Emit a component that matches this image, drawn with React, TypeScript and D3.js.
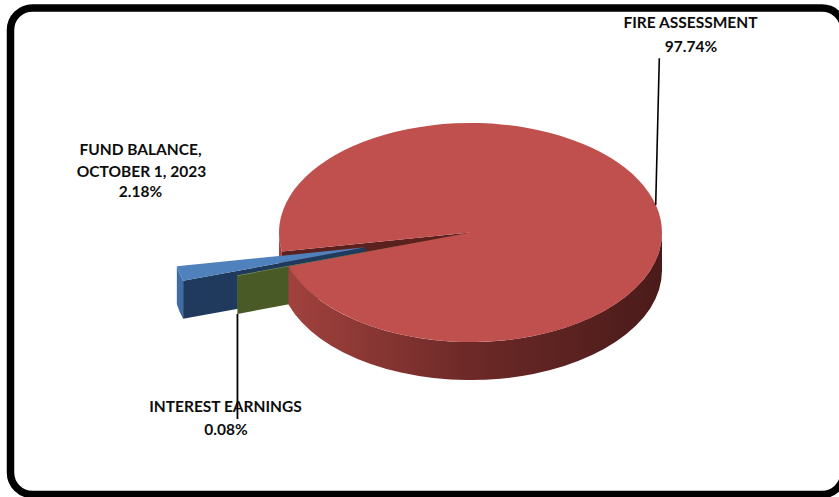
import React from "react";
import * as d3 from "d3";

// Revenue shares, in plotting order (clockwise)
const categories = ["FUND BALANCE, OCTOBER 1, 2023", "FIRE ASSESSMENT", "INTEREST EARNINGS"];
const labelLines = [["FUND BALANCE,", "OCTOBER 1, 2023"], ["FIRE ASSESSMENT"], ["INTEREST EARNINGS"]];
const shares = [2.18, 97.74, 0.08];
const explodeFrac = [0.565, 0, 0.28];

const W = 839;
const H = 497;

// 3-D pie geometry
const CX = 470.5;
const CY = 232.5;
const RX = 191.5;
const RY = 109.5;
const DEPTH = 38;
const START_DEG = 252.2; // d3 angle (0 = 12 o'clock) of the first slice

const topColors = ["#4F81BD", "#C0504D", "#9BBB59"];
const radialColors = ["#1F3A5C", "#5C201F", "#4A5A26"];
const wallColors = ["#3E6CA6", "url(#redWall)", "#6F8A3A"];

const fmtPct = (v: number) => `${v.toFixed(2)}%`;

type Off = { x: number; y: number };

function pt(theta: number, off: Off, z = 0): [number, number] {
  return [CX + off.x + RX * Math.cos(theta), CY + off.y + RY * Math.sin(theta) + z];
}

function topPath(t0: number, t1: number, off: Off) {
  const [x0, y0] = pt(t0, off);
  const [x1, y1] = pt(t1, off);
  const large = t1 - t0 > Math.PI ? 1 : 0;
  return `M${CX + off.x},${CY + off.y}L${x0},${y0}A${RX},${RY} 0 ${large} 1 ${x1},${y1}Z`;
}

function radialPath(t: number, off: Off) {
  const [x, y] = pt(t, off);
  const c = [CX + off.x, CY + off.y];
  return `M${c[0]},${c[1]}L${x},${y}L${x},${y + DEPTH}L${c[0]},${c[1] + DEPTH}Z`;
}

// Outer wall pieces that face the viewer (screen angles 0..PI); flags the piece touching the slice start
function wallPieces(t0: number, t1: number, off: Off): { d: string; atStart: boolean }[] {
  const out: { d: string; atStart: boolean }[] = [];
  for (let k = -2; k <= 2; k++) {
    const a = Math.max(t0, k * 2 * Math.PI);
    const b = Math.min(t1, k * 2 * Math.PI + Math.PI);
    if (b > a) {
      const [xa, ya] = pt(a, off);
      const [xb, yb] = pt(b, off);
      out.push({
        d: `M${xa},${ya}A${RX},${RY} 0 0 1 ${xb},${yb}L${xb},${yb + DEPTH}A${RX},${RY} 0 0 0 ${xa},${ya + DEPTH}Z`,
        atStart: a === t0,
      });
    }
  }
  return out;
}

export default function App() {
  const pie = d3
    .pie<number>()
    .sort(null)
    .value((d) => d)
    .startAngle((START_DEG * Math.PI) / 180)
    .endAngle((START_DEG * Math.PI) / 180 + 2 * Math.PI);
  const arcs = pie(shares);

  const slices = arcs.map((a, i) => {
    const t0 = a.startAngle - Math.PI / 2;
    const t1 = a.endAngle - Math.PI / 2;
    const mid = (t0 + t1) / 2;
    const e = explodeFrac[i];
    const off = { x: e * RX * Math.cos(mid), y: e * RY * Math.sin(mid) };
    return { i, t0, t1, mid, off, e };
  });

  const radialFaces = (s: (typeof slices)[number]) => {
    const faces: string[] = [];
    if (Math.cos(s.t0) < 0) faces.push(radialPath(s.t0, s.off));
    if (Math.cos(s.t1) > 0) faces.push(radialPath(s.t1, s.off));
    return faces;
  };

  const fixed = slices.filter((s) => s.e === 0);
  const exploded = slices.filter((s) => s.e > 0).sort((a, b) => b.e - a.e);

  const green = slices[2];
  const [gx, gy] = pt(green.t0, green.off, DEPTH);

  const font = "Lato, 'Open Sans', sans-serif";
  const textStyle = { fontFamily: font, fontWeight: 700, fontSize: 15.5, fill: "#0d0d0d" } as const;

  return (
    <svg
      width={W}
      height={H}
      viewBox={`0 0 ${W} ${H}`}
      style={{ position: "absolute", left: 0, top: 0, background: "#fff" }}
    >
      <defs>
        <linearGradient id="redWall" gradientUnits="userSpaceOnUse" x1={CX - RX} x2={CX + RX} y1={0} y2={0}>
          <stop offset="0" stopColor="#A4433F" />
          <stop offset="0.5" stopColor="#6C2927" />
          <stop offset="1" stopColor="#4A1B1A" />
        </linearGradient>
      </defs>

      {/* parts of the main slice that sit behind the pulled-out wedges */}
      {fixed.map((s) => (
        <g key={`back${s.i}`}>
          {radialFaces(s).map((d, k) => (
            <path key={`r${k}`} d={d} fill={radialColors[s.i]} />
          ))}
          {wallPieces(s.t0, s.t1, s.off)
            .filter((p) => p.atStart)
            .map((p, k) => (
              <path key={`w${k}`} d={p.d} fill={wallColors[s.i]} />
            ))}
        </g>
      ))}

      {/* pulled-out slices */}
      {exploded.map((s) => (
        <g key={`ex${s.i}`}>
          {radialFaces(s).map((d, k) => (
            <path key={`r${k}`} d={d} fill={radialColors[s.i]} />
          ))}
          {wallPieces(s.t0, s.t1, s.off).map((p, k) => (
            <path key={`w${k}`} d={p.d} fill={wallColors[s.i]} />
          ))}
          <path d={topPath(s.t0, s.t1, s.off)} fill={topColors[s.i]} />
        </g>
      ))}

      {/* main slice */}
      {fixed.map((s) => (
        <g key={`fx${s.i}`}>
          {wallPieces(s.t0, s.t1, s.off)
            .filter((p) => !p.atStart)
            .map((p, k) => (
              <path key={`w${k}`} d={p.d} fill={wallColors[s.i]} />
            ))}
          <path d={topPath(s.t0, s.t1, s.off)} fill={topColors[s.i]} />
        </g>
      ))}

      {/* leader lines */}
      <line x1={659.3} y1={58.3} x2={655.7} y2={205} stroke="#000" strokeWidth={1.6} />
      <line x1={gx} y1={gy} x2={gx} y2={419} stroke="#000" strokeWidth={1.8} />

      {/* labels */}
      <g textAnchor="middle" style={textStyle}>
        <text x={690.5} y={28.3}>{labelLines[1][0]}</text>
        <text x={691} y={51.7}>{fmtPct(shares[1])}</text>

        <text x={140.5} y={155}>{labelLines[0][0]}</text>
        <text x={141.5} y={176.7}>{labelLines[0][1]}</text>
        <text x={140.5} y={196.7}>{fmtPct(shares[0])}</text>

        <text x={225.5} y={411.7}>{labelLines[2][0]}</text>
        <text x={226} y={435}>{fmtPct(shares[2])}</text>
      </g>

      {/* rounded frame */}
      <rect
        x={10.5}
        y={8}
        width={833.5}
        height={486.5}
        rx={22}
        ry={22}
        fill="none"
        stroke="#000"
        strokeWidth={7.5}
      />
      <title>{categories.join(", ")}</title>
    </svg>
  );
}
